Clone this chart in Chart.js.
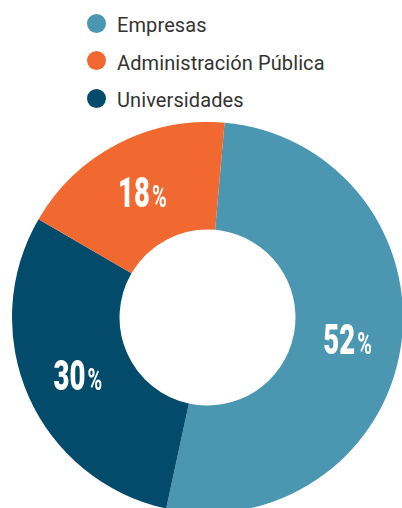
<!DOCTYPE html>
<html><head><meta charset="utf-8">
<script src="https://cdn.jsdelivr.net/npm/chart.js@4/dist/chart.umd.min.js"></script>
<style>
html,body{margin:0;padding:0;background:#fff;overflow:hidden;width:402px;height:508px;position:relative}
#wrap{position:absolute;left:12px;top:122px;width:391px;height:391px}
#legend{position:absolute;left:0;top:0;width:402px;height:120px}
.row{position:absolute;left:87px;height:20px;display:flex;align-items:center;font-family:Roboto,'Noto Sans',sans-serif;font-size:20px;color:#333;white-space:nowrap}
.row span.t{position:relative;top:2px;letter-spacing:0.1px}
.dot{width:19px;height:19px;border-radius:50%;margin-right:11px;flex:none}
</style>
</head><body>
<div id="legend"></div>
<div id="wrap"><canvas id="c"></canvas></div>
<script>
// drawing order (clockwise from top)
const categories = ['Empresas', 'Universidades', 'Administración Pública'];
const values = [52, 30, 18];
const valueLabels = ['52', '30', '18'];
const colors = ['#4b96b1', '#034b6a', '#f16830'];
// legend order as shown in the reference
const legendOrder = ['Empresas', 'Administración Pública', 'Universidades'];

// HTML legend
const leg = document.getElementById('legend');
legendOrder.forEach((name, k) => {
  const i = categories.indexOf(name);
  const row = document.createElement('div');
  row.className = 'row';
  row.style.top = (13 + k * 37.5) + 'px';
  const dot = document.createElement('span');
  dot.className = 'dot';
  dot.style.background = colors[i];
  const t = document.createElement('span');
  t.className = 't';
  t.textContent = name;
  row.appendChild(dot); row.appendChild(t);
  leg.appendChild(row);
});

const labelPlugin = {
  id: 'sliceLabels',
  afterDatasetsDraw(chart) {
    const ctx = chart.ctx;
    const meta = chart.getDatasetMeta(0);
    meta.data.forEach((arc, i) => {
      const p = arc.tooltipPosition(true);
      const num = valueLabels[i];
      ctx.save();
      ctx.fillStyle = '#ffffff';
      ctx.textBaseline = 'alphabetic';
      ctx.textAlign = 'left';
      const sxNum = 0.64, sxPct = 0.62;
      const fNum = '900 43px Roboto', fPct = '700 32px Roboto';
      ctx.font = fNum;
      const wNum = ctx.measureText(num).width * sxNum;
      ctx.font = fPct;
      const wPct = ctx.measureText('%').width * sxPct;
      const gap = 2;
      const total = wNum + gap + wPct;
      const x0 = p.x - total / 2;
      const base = p.y + 15;
      ctx.save();
      ctx.translate(x0, base);
      ctx.scale(sxNum, 1);
      ctx.font = fNum;
      ctx.fillText(num, 0, 0);
      ctx.restore();
      ctx.save();
      ctx.translate(x0 + wNum + gap, base);
      ctx.scale(sxPct, 1);
      ctx.font = fPct;
      ctx.fillText('%', 0, 0);
      ctx.restore();
      ctx.restore();
    });
  }
};

new Chart(document.getElementById('c'), {
  type: 'doughnut',
  data: {
    labels: categories,
    datasets: [{
      data: values,
      backgroundColor: colors,
      borderWidth: 0,
      hoverOffset: 0
    }]
  },
  options: {
    responsive: true,
    maintainAspectRatio: false,
    animation: false,
    cutout: '45%',
    rotation: 5,
    layout: { padding: 0 },
    plugins: {
      legend: { display: false },
      tooltip: { enabled: false }
    }
  },
  plugins: [labelPlugin]
});
</script>
</body></html>
